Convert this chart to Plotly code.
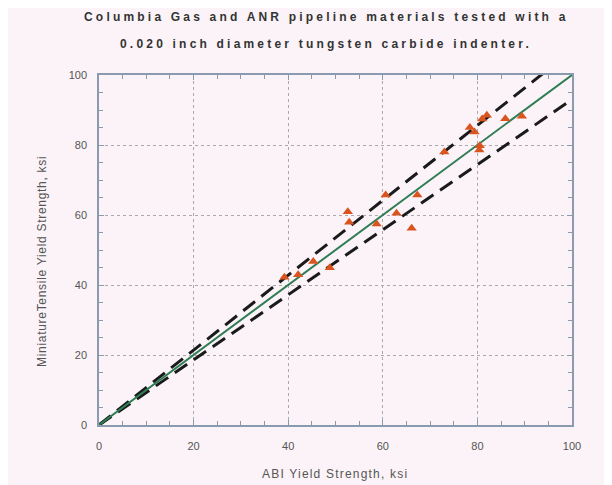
import plotly.graph_objects as go

# Data (ksi)
abi_yield = [39.2, 42.1, 45.3, 48.8, 52.6, 52.9, 58.7, 60.6, 62.9, 66.1, 67.3,
             73.0, 78.4, 79.4, 80.5, 80.4, 81.0, 82.0, 85.9, 89.4]
tensile_yield = [42.2, 42.9, 46.7, 44.9, 60.9, 57.9, 57.4, 65.7, 60.5, 56.2, 65.7,
                 78.0, 85.0, 83.7, 79.8, 78.6, 87.4, 88.5, 87.5, 88.2]
ref_x = [0, 100]
ratio_center = 1.0
ratio_upper = 1.07
ratio_lower = 0.93
tick_vals = [0, 20, 40, 60, 80, 100]

bg = "#fbf3f7"
axis_col = "#8a9bb0"
OFF = 8  # page body margin offset

fig = go.Figure()
fig.add_trace(go.Scatter(x=ref_x, y=[v * ratio_upper for v in ref_x], mode="lines",
                         line=dict(color="#1a1a1a", width=3, dash="15px,8px"), showlegend=False))
fig.add_trace(go.Scatter(x=ref_x, y=[v * ratio_lower for v in ref_x], mode="lines",
                         line=dict(color="#1a1a1a", width=3, dash="15px,8px"), showlegend=False))
fig.add_trace(go.Scatter(x=ref_x, y=[v * ratio_center for v in ref_x], mode="lines",
                         line=dict(color="#2e7d55", width=2), showlegend=False))
fig.add_trace(go.Scatter(x=abi_yield, y=tensile_yield, mode="markers",
                         marker=dict(symbol="triangle-up", size=9, color="#d9541f"),
                         showlegend=False))

axis_common = dict(
    range=[0, 100], tickvals=tick_vals, showgrid=True, gridcolor="#aaaaaa",
    griddash="dot", gridwidth=1, showline=True, linecolor=axis_col, linewidth=1.5,
    mirror="allticks", ticks="inside", ticklen=5, tickcolor=axis_col,
    minor=dict(dtick=5, ticks="inside", ticklen=4, tickcolor=axis_col, showgrid=False),
    zeroline=False, tickfont=dict(family="Liberation Sans, Arial", size=11, color="#555555"),
)

title_font = dict(family="Liberation Sans, Arial", size=12, color="#333333")
label_font = dict(family="Liberation Sans, Arial", size=12, color="#555555")
sp = '<span style="letter-spacing:3.2px">'

fig.update_layout(
    width=612, height=485,
    margin=dict(l=99 - OFF, r=612 - (572 - OFF), t=75 - OFF, b=485 - (425 - OFF)),
    paper_bgcolor=bg, plot_bgcolor=bg,
    xaxis=dict(**axis_common, ticklabelstandoff=10),
    yaxis=dict(**axis_common, ticklabelstandoff=8),
    annotations=[
        dict(text=sp + "<b>Columbia Gas and ANR pipeline materials tested with a</b></span>",
             xref="paper", yref="paper", x=(326 - 99) / 473, y=1 + (75 - 17) / 350,
             showarrow=False, font=title_font, xanchor="center", yanchor="middle"),
        dict(text=sp + "<b>0.020 inch diameter tungsten carbide indenter.</b></span>",
             xref="paper", yref="paper", x=(326 - 99) / 473, y=1 + (75 - 44) / 350,
             showarrow=False, font=title_font, xanchor="center", yanchor="middle"),
        dict(text='<span style="letter-spacing:1.2px">ABI Yield Strength, ksi</span>',
             xref="paper", yref="paper",
             x=(335 - 99) / 473, y=(425 - 474) / 350, showarrow=False,
             font=label_font, xanchor="center", yanchor="middle"),
        dict(text='<span style="letter-spacing:0.7px">MiniatureTensile Yield Strength, ksi</span>',
             xref="paper", yref="paper",
             x=(42 - 99) / 473, y=(425 - 262) / 350, showarrow=False, textangle=-90,
             font=label_font, xanchor="center", yanchor="middle"),
    ],
)

fig.write_html("out.html")
